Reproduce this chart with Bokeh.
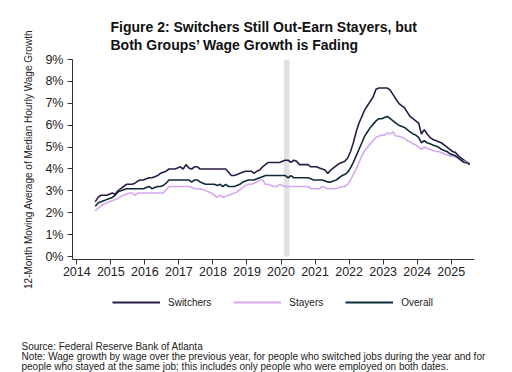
import pandas as pd
from bokeh.plotting import figure
from bokeh.layouts import column
from bokeh.models import (Range1d, FixedTicker, PrintfTickFormatter, Title, Label,
                          Legend, LegendItem, ColumnDataSource)
from bokeh.embed import file_html
from bokeh.resources import INLINE

# ---------------- data (monthly, Jul 2014 - Jul 2025) ----------------
first_month = "2014-07"

switchers = [
    2.5, 2.7, 2.8, 2.8, 2.8, 2.85,                                   # 2014 Jul-Dec
    2.9, 2.85, 3.0, 3.1, 3.2, 3.3, 3.3, 3.3, 3.35, 3.45, 3.5, 3.5,   # 2015
    3.55, 3.6, 3.6, 3.65, 3.7, 3.8, 3.85, 3.9, 4.0, 4.0, 4.0, 4.05,  # 2016
    4.1, 4.0, 4.2, 4.05, 4.0, 4.1, 4.1, 4.0, 4.0, 4.0, 4.0, 4.0,     # 2017
    4.0, 4.0, 4.0, 4.0, 4.0, 3.85, 3.7, 3.7, 3.75, 3.8, 3.85, 3.9,   # 2018
    3.9, 3.9, 3.8, 3.9, 3.95, 4.1, 4.2, 4.3, 4.3, 4.3, 4.3, 4.3,     # 2019
    4.35, 4.4, 4.4, 4.3, 4.4, 4.35, 4.2, 4.2, 4.2, 4.2, 4.1, 4.1,    # 2020
    4.1, 4.05, 4.0, 3.95, 3.8, 3.95, 4.05, 4.15, 4.25, 4.3, 4.35, 4.5,  # 2021
    4.8, 5.2, 5.7, 6.1, 6.4, 6.7, 6.9, 7.1, 7.3, 7.65, 7.7, 7.7,     # 2022
    7.7, 7.7, 7.6, 7.4, 7.2, 7.0, 6.9, 6.8, 6.6, 6.4, 6.3, 6.2,      # 2023
    6.1, 5.6, 5.8, 5.6, 5.45, 5.35, 5.3, 5.25, 5.2, 5.1, 5.0, 4.9,   # 2024
    4.8, 4.75, 4.6, 4.5, 4.4, 4.3, 4.25,                             # 2025 Jan-Jul
]

stayers = [
    2.1, 2.2, 2.3, 2.4, 2.45, 2.5,
    2.55, 2.6, 2.65, 2.75, 2.8, 2.85, 2.9, 2.9, 2.8, 2.9, 2.9, 2.9,
    2.9, 2.9, 2.9, 2.9, 2.9, 2.9, 2.9, 3.05, 3.2, 3.2, 3.2, 3.2,
    3.2, 3.2, 3.2, 3.2, 3.15, 3.1, 3.1, 3.1, 3.05, 3.0, 2.95, 2.9,
    2.8, 2.7, 2.8, 2.7, 2.75, 2.8, 2.85, 2.9, 2.95, 3.05, 3.15, 3.25,
    3.3, 3.3, 3.35, 3.4, 3.5, 3.5, 3.3, 3.3, 3.25, 3.2, 3.2, 3.3,
    3.25, 3.2, 3.2, 3.2, 3.2, 3.2, 3.2, 3.2, 3.2, 3.2, 3.1, 3.1,
    3.1, 3.1, 3.2, 3.15, 3.1, 3.1, 3.1, 3.1, 3.15, 3.2, 3.2, 3.3,
    3.5, 3.75, 4.0, 4.3, 4.6, 4.85, 5.0, 5.15, 5.3, 5.45, 5.5, 5.55,
    5.55, 5.65, 5.6, 5.7, 5.5, 5.5, 5.45, 5.4, 5.3, 5.25, 5.15, 5.1,
    5.0, 4.9, 5.0, 4.95, 4.9, 4.85, 4.8, 4.8, 4.75, 4.7, 4.65, 4.6,
    4.6, 4.55, 4.5, 4.4, 4.35, 4.3, 4.3,
]

overall = [
    2.3, 2.45, 2.5, 2.55, 2.6, 2.65,
    2.7, 2.8, 2.95, 3.0, 3.05, 3.1, 3.1, 3.1, 3.1, 3.1, 3.1, 3.1,
    3.15, 3.2, 3.1, 3.15, 3.2, 3.2, 3.25, 3.35, 3.5, 3.5, 3.5, 3.5,
    3.5, 3.5, 3.5, 3.5, 3.4, 3.5, 3.5, 3.4, 3.35, 3.3, 3.3, 3.3,
    3.3, 3.25, 3.3, 3.2, 3.3, 3.2, 3.2, 3.2, 3.25, 3.3, 3.4, 3.45,
    3.5, 3.5, 3.5, 3.55, 3.6, 3.65, 3.7, 3.7, 3.7, 3.7, 3.7, 3.7,
    3.7, 3.7, 3.6, 3.7, 3.6, 3.6, 3.6, 3.6, 3.6, 3.6, 3.55, 3.5,
    3.5, 3.5, 3.5, 3.45, 3.4, 3.4, 3.45, 3.5, 3.6, 3.7, 3.75, 3.85,
    4.05, 4.3, 4.6, 4.9, 5.2, 5.5, 5.7, 5.9, 6.05, 6.2, 6.3, 6.3,
    6.35, 6.4, 6.3, 6.2, 6.1, 6.0, 5.95, 5.9, 5.8, 5.7, 5.6, 5.55,
    5.45, 5.2, 5.3, 5.2, 5.15, 5.1, 5.05, 5.0, 4.9, 4.85, 4.8, 4.7,
    4.65, 4.6, 4.5, 4.4, 4.3, 4.3, 4.2,
]

# recession shading (Feb 2020 - Apr 2020)
shade_start = 2020 + 1 / 12
shade_end = 2020 + 3 / 12
shade_top = 9.0

year_ticks = list(range(2014, 2026))
pct_ticks = list(range(0, 10))

series_names = ["Switchers", "Stayers", "Overall"]
series_keys = ["switchers", "stayers", "overall"]
series_colors = ["#2b1a48", "#d6a8f2", "#0f2a3a"]

title_text = ("Figure 2: Switchers Still Out-Earn Stayers, but\n"
              "Both Groups\u2019 Wage Growth is Fading")
note_lines = ["Source: Federal Reserve Bank of Atlanta",
              "Note: Wage growth by wage over the previous year, for people who switched jobs during the year and for",
              "people who stayed at the same job; this includes only people who were employed on both dates."]

FONT = "Liberation Sans"
TXT = "#222222"

# ---------------- main chart ----------------
months = pd.period_range(first_month, periods=len(switchers), freq="M")
xdec = [m.year + (m.month - 0.5) / 12 for m in months]
src = ColumnDataSource(dict(x=xdec, switchers=switchers, stayers=stayers, overall=overall))

MAIN_H = 290
p = figure(width=512, height=MAIN_H, output_backend="svg", toolbar_location=None,
           x_range=Range1d(2013.874, 2025.684), y_range=Range1d(-0.137, 9.005),
           min_border_left=72, min_border_right=38, min_border_top=59,
           min_border_bottom=31, title=None)
p.frame_align = False
p.outline_line_color = None
p.background_fill_color = "white"
p.border_fill_color = "white"
p.xgrid.visible = False
p.ygrid.visible = False

p.quad(left=[shade_start], right=[shade_end], bottom=[0], top=[shade_top],
       fill_color="#e2e2e2", line_color=None)

for key, col in zip(series_keys, series_colors):
    p.line("x", key, source=src, line_color=col, line_width=1.6)

p.xaxis.ticker = FixedTicker(ticks=year_ticks)
p.xaxis.formatter = PrintfTickFormatter(format="%d")
p.yaxis.ticker = FixedTicker(ticks=pct_ticks)
p.yaxis.formatter = PrintfTickFormatter(format="%d%%")
for ax in (p.xaxis, p.yaxis):
    ax.minor_tick_line_color = None
    ax.major_tick_in = 0
    ax.major_tick_out = 5
    ax.axis_line_color = "#333333"
    ax.major_tick_line_color = "#333333"
    ax.major_label_text_font = FONT
    ax.major_label_text_font_size = "12.5px"
    ax.major_label_text_color = TXT
p.xaxis.major_label_standoff = 2
p.yaxis.major_label_standoff = 4
p.yaxis.axis_label = "12-Month Moving Average of Median Hourly Wage Growth"
p.yaxis.axis_label_text_font = FONT
p.yaxis.axis_label_text_font_size = "10px"
p.yaxis.axis_label_text_font_style = "normal"
p.yaxis.axis_label_text_color = TXT
p.yaxis.axis_label_standoff = 8

p.add_layout(Title(text=title_text, align="left", offset=38, standoff=12,
                   text_font=FONT, text_font_size="14px", text_font_style="bold",
                   text_color="#111111", text_line_height=1.15), "above")

# ---------------- legend + notes strip ----------------
FOOT_H = 372 - MAIN_H
f = figure(width=512, height=FOOT_H, output_backend="svg", toolbar_location=None,
           x_range=Range1d(0, 512), y_range=Range1d(0, FOOT_H),
           x_axis_type=None, y_axis_type=None, min_border=0, title=None)
f.frame_align = False
f.outline_line_color = None
f.xgrid.visible = False
f.ygrid.visible = False
f.background_fill_color = "white"
f.border_fill_color = "white"

# legend-only renderers (kept outside the visible range)
legend_renderers = [f.line(x=[-20, -10], y=[-20, -20], line_color=c, line_width=2)
                    for c in series_colors]
legend = Legend(items=[LegendItem(label=n, renderers=[r])
                       for n, r in zip(series_names, legend_renderers)],
                orientation="horizontal", location=(112, 60),
                glyph_width=48, glyph_height=20, label_height=20, label_standoff=8,
                spacing=22, padding=0, margin=0, border_line_color=None,
                background_fill_alpha=0, label_text_font=FONT,
                label_text_font_size="10px", label_text_color=TXT)
f.add_layout(legend)

for txt, base in zip(note_lines, [346.3, 356.3, 366.0]):
    f.add_layout(Label(x=21, y=372 - base, text=txt, text_font=FONT,
                       text_font_size="10px", text_color=TXT,
                       text_baseline="alphabetic"))

layout = column(p, f, spacing=0)
open("out.html", "w").write(file_html(layout, INLINE))
